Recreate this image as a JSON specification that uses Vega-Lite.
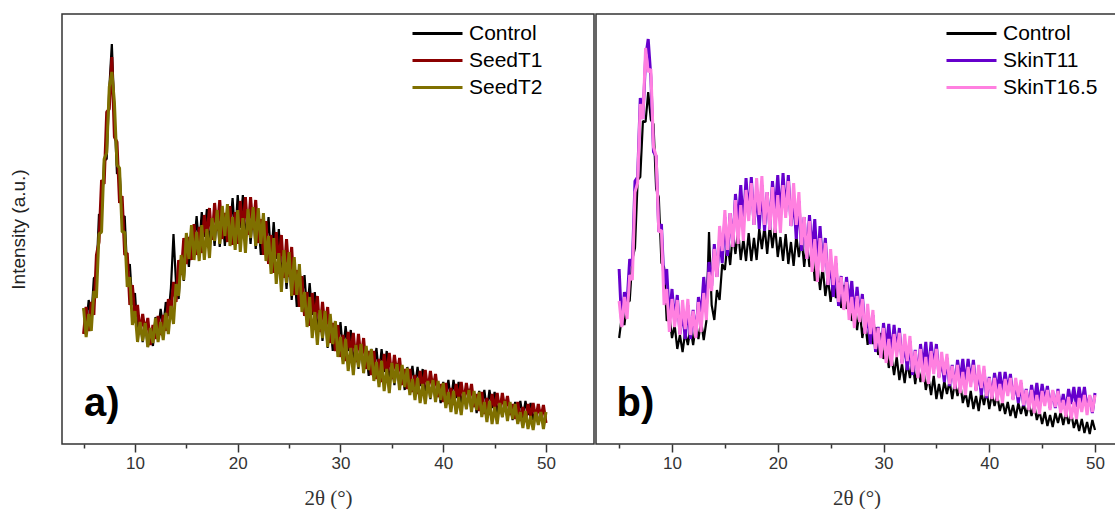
{
"$schema": "https://vega.github.io/schema/vega-lite/v6.json",
"background": "white",
"padding": {"left": 8, "top": 13, "right": 0, "bottom": 0},
"spacing": 0,
"config": {
 "font": "Liberation Sans",
 "view": {"stroke": "#333333", "strokeWidth": 1.5},
 "line": {"strokeWidth": 3, "strokeJoin": "bevel"},
 "axis": {"grid": false, "domain": false, "tickColor": "#333333", "tickWidth": 1.5, "labelFont": "Liberation Sans", "labelFontSize": 17, "labelColor": "#333333", "labelPadding": 3, "titleFont": "Liberation Serif", "titleFontSize": 21, "titleFontWeight": "normal", "titleColor": "#333333", "titlePadding": 16},
 "axisY": {"titleFont": "Liberation Sans", "titleFontSize": 19, "titleColor": "#222222", "titlePadding": 34, "ticks": false, "labels": false},
 "legend": {"title": null, "symbolType": "stroke", "symbolSize": 2500, "symbolStrokeWidth": 2, "labelFontSize": 21, "labelFont": "Liberation Sans", "labelColor": "#000000", "labelOffset": 5, "rowPadding": 0, "clipHeight": 27, "padding": 0}
},
"datasets": {
"a": [
{"x":5,"ctrl":136,"t1":110,"t2":136},{"x":5.25,"ctrl":119,"t1":137,"t2":107},{"x":5.5,"ctrl":144,"t1":113,"t2":130},{"x":5.75,"ctrl":125,"t1":142,"t2":113},{"x":6,"ctrl":166,"t1":129,"t2":153},{"x":6.25,"ctrl":168,"t1":189,"t2":146},{"x":6.5,"ctrl":230,"t1":202,"t2":210},{"x":6.75,"ctrl":226,"t1":264,"t2":212},{"x":7,"ctrl":283,"t1":260,"t2":285},{"x":7.25,"ctrl":285,"t1":332,"t2":291},{"x":7.5,"ctrl":355,"t1":335,"t2":357},{"x":7.75,"ctrl":400,"t1":387,"t2":372},{"x":8,"ctrl":330,"t1":307,"t2":342},{"x":8.25,"ctrl":270,"t1":302,"t2":279},{"x":8.5,"ctrl":274,"t1":241,"t2":276},{"x":8.75,"ctrl":226,"t1":248,"t2":212},{"x":9,"ctrl":228,"t1":189,"t2":212},{"x":9.25,"ctrl":171,"t1":191,"t2":157},{"x":9.5,"ctrl":180,"t1":139,"t2":167},{"x":9.75,"ctrl":139,"t1":159,"t2":119},
{"x":10,"ctrl":151,"t1":128,"t2":133},{"x":10.25,"ctrl":113,"t1":139,"t2":102},{"x":10.5,"ctrl":123,"t1":110,"t2":122},{"x":10.75,"ctrl":102,"t1":130,"t2":103},{"x":11,"ctrl":122,"t1":111,"t2":121},{"x":11.25,"ctrl":97,"t1":126,"t2":97},{"x":11.5,"ctrl":112,"t1":99,"t2":116},{"x":11.75,"ctrl":98,"t1":119,"t2":101},{"x":12,"ctrl":127,"t1":105,"t2":126},{"x":12.25,"ctrl":113,"t1":128,"t2":102},{"x":12.5,"ctrl":135,"t1":109,"t2":122},{"x":12.75,"ctrl":116,"t1":129,"t2":104},{"x":13,"ctrl":142,"t1":113,"t2":131},{"x":13.25,"ctrl":128,"t1":145,"t2":110},{"x":13.5,"ctrl":156,"t1":133,"t2":138},{"x":13.75,"ctrl":210,"t1":162,"t2":120},{"x":14,"ctrl":160,"t1":142,"t2":160},{"x":14.25,"ctrl":145,"t1":184,"t2":148},{"x":14.5,"ctrl":187,"t1":169,"t2":189},{"x":14.75,"ctrl":163,"t1":206,"t2":164},
{"x":15,"ctrl":200,"t1":180,"t2":211},{"x":15.25,"ctrl":177,"t1":207,"t2":185},{"x":15.5,"ctrl":217,"t1":184,"t2":219},{"x":15.75,"ctrl":198,"t1":220,"t2":184},{"x":16,"ctrl":228,"t1":189,"t2":212},{"x":16.25,"ctrl":197,"t1":217,"t2":183},{"x":16.5,"ctrl":232,"t1":191,"t2":219},{"x":16.75,"ctrl":207,"t1":229,"t2":184},{"x":17,"ctrl":235,"t1":207,"t2":215},{"x":17.25,"ctrl":200,"t1":236,"t2":186},{"x":17.5,"ctrl":225,"t1":204,"t2":226},{"x":17.75,"ctrl":198,"t1":241,"t2":203},{"x":18,"ctrl":232,"t1":213,"t2":234},{"x":18.25,"ctrl":197,"t1":244,"t2":200},{"x":18.5,"ctrl":227,"t1":205,"t2":238},{"x":18.75,"ctrl":198,"t1":231,"t2":208},{"x":19,"ctrl":238,"t1":202,"t2":240},{"x":19.25,"ctrl":212,"t1":238,"t2":198},{"x":19.5,"ctrl":246,"t1":199,"t2":227},{"x":19.75,"ctrl":208,"t1":232,"t2":194},
{"x":20,"ctrl":249,"t1":200,"t2":234},{"x":20.25,"ctrl":216,"t1":243,"t2":192},{"x":20.5,"ctrl":249,"t1":215,"t2":226},{"x":20.75,"ctrl":205,"t1":247,"t2":191},{"x":21,"ctrl":233,"t1":209,"t2":235},{"x":21.25,"ctrl":200,"t1":247,"t2":206},{"x":21.5,"ctrl":234,"t1":214,"t2":237},{"x":21.75,"ctrl":195,"t1":244,"t2":198},{"x":22,"ctrl":224,"t1":201,"t2":236},{"x":22.25,"ctrl":189,"t1":225,"t2":200},{"x":22.5,"ctrl":229,"t1":189,"t2":231},{"x":22.75,"ctrl":197,"t1":223,"t2":183},{"x":23,"ctrl":227,"t1":180,"t2":208},{"x":23.25,"ctrl":184,"t1":209,"t2":170},{"x":23.5,"ctrl":222,"t1":171,"t2":206},{"x":23.75,"ctrl":185,"t1":212,"t2":160},{"x":24,"ctrl":215,"t1":180,"t2":191},{"x":24.25,"ctrl":167,"t1":209,"t2":152},{"x":24.5,"ctrl":191,"t1":166,"t2":194},{"x":24.75,"ctrl":155,"t1":205,"t2":161},
{"x":25,"ctrl":190,"t1":167,"t2":192},{"x":25.25,"ctrl":144,"t1":197,"t2":148},{"x":25.5,"ctrl":174,"t1":149,"t2":187},{"x":25.75,"ctrl":137,"t1":174,"t2":149},{"x":26,"ctrl":177,"t1":137,"t2":180},{"x":26.25,"ctrl":145,"t1":168,"t2":132},{"x":26.5,"ctrl":169,"t1":128,"t2":152},{"x":26.75,"ctrl":131,"t1":152,"t2":117},{"x":27,"ctrl":161,"t1":118,"t2":147},{"x":27.25,"ctrl":129,"t1":151,"t2":106},{"x":27.5,"ctrl":152,"t1":124,"t2":132},{"x":27.75,"ctrl":113,"t1":148,"t2":99},{"x":28,"ctrl":132,"t1":112,"t2":134},{"x":28.25,"ctrl":103,"t1":142,"t2":106},{"x":28.5,"ctrl":131,"t1":114,"t2":133},{"x":28.75,"ctrl":96,"t1":137,"t2":97},{"x":29,"ctrl":120,"t1":101,"t2":130},{"x":29.25,"ctrl":93,"t1":121,"t2":100},{"x":29.5,"ctrl":122,"t1":93,"t2":123},{"x":29.75,"ctrl":99,"t1":119,"t2":87},
{"x":30,"ctrl":122,"t1":87,"t2":107},{"x":30.25,"ctrl":92,"t1":109,"t2":80},{"x":30.5,"ctrl":118,"t1":83,"t2":105},{"x":30.75,"ctrl":93,"t1":112,"t2":73},{"x":31,"ctrl":114,"t1":90,"t2":96},{"x":31.25,"ctrl":81,"t1":111,"t2":69},{"x":31.5,"ctrl":99,"t1":82,"t2":99},{"x":31.75,"ctrl":75,"t1":110,"t2":77},{"x":32,"ctrl":100,"t1":85,"t2":100},{"x":32.25,"ctrl":71,"t1":106,"t2":71},{"x":32.5,"ctrl":91,"t1":75,"t2":98},{"x":32.75,"ctrl":68,"t1":93,"t2":74},{"x":33,"ctrl":95,"t1":69,"t2":95},{"x":33.25,"ctrl":75,"t1":93,"t2":63},{"x":33.5,"ctrl":96,"t1":65,"t2":82},{"x":33.75,"ctrl":69,"t1":85,"t2":57},{"x":34,"ctrl":95,"t1":62,"t2":83},{"x":34.25,"ctrl":72,"t1":90,"t2":53},{"x":34.5,"ctrl":93,"t1":70,"t2":75},{"x":34.75,"ctrl":63,"t1":91,"t2":51},
{"x":35,"ctrl":81,"t1":65,"t2":81},{"x":35.25,"ctrl":59,"t1":89,"t2":61},{"x":35.5,"ctrl":81,"t1":68,"t2":80},{"x":35.75,"ctrl":55,"t1":86,"t2":54},{"x":36,"ctrl":74,"t1":59,"t2":79},{"x":36.25,"ctrl":54,"t1":75,"t2":57},{"x":36.5,"ctrl":77,"t1":55,"t2":76},{"x":36.75,"ctrl":60,"t1":75,"t2":49},{"x":37,"ctrl":78,"t1":52,"t2":65},{"x":37.25,"ctrl":56,"t1":69,"t2":44},{"x":37.5,"ctrl":77,"t1":50,"t2":66},{"x":37.75,"ctrl":58,"t1":73,"t2":41},{"x":38,"ctrl":75,"t1":56,"t2":60},{"x":38.25,"ctrl":50,"t1":74,"t2":40},{"x":38.5,"ctrl":65,"t1":52,"t2":63},{"x":38.75,"ctrl":45,"t1":73,"t2":46},{"x":39,"ctrl":65,"t1":54,"t2":64},{"x":39.25,"ctrl":43,"t1":70,"t2":42},{"x":39.5,"ctrl":59,"t1":47,"t2":63},{"x":39.75,"ctrl":41,"t1":60,"t2":44},
{"x":40,"ctrl":62,"t1":42,"t2":61},{"x":40.25,"ctrl":47,"t1":61,"t2":36},{"x":40.5,"ctrl":64,"t1":40,"t2":52},{"x":40.75,"ctrl":43,"t1":56,"t2":32},{"x":41,"ctrl":64,"t1":39,"t2":53},{"x":41.25,"ctrl":46,"t1":60,"t2":30},{"x":41.5,"ctrl":62,"t1":45,"t2":47},{"x":41.75,"ctrl":40,"t1":62,"t2":29},{"x":42,"ctrl":53,"t1":41,"t2":52},{"x":42.25,"ctrl":35,"t1":61,"t2":35},{"x":42.5,"ctrl":55,"t1":44,"t2":54},{"x":42.75,"ctrl":33,"t1":60,"t2":32},{"x":43,"ctrl":49,"t1":37,"t2":53},{"x":43.25,"ctrl":31,"t1":50,"t2":34},{"x":43.5,"ctrl":53,"t1":33,"t2":52},{"x":43.75,"ctrl":38,"t1":52,"t2":27},{"x":44,"ctrl":54,"t1":30,"t2":42},{"x":44.25,"ctrl":33,"t1":46,"t2":22},{"x":44.5,"ctrl":54,"t1":29,"t2":43},{"x":44.75,"ctrl":36,"t1":50,"t2":20},
{"x":45,"ctrl":52,"t1":35,"t2":37},{"x":45.25,"ctrl":31,"t1":51,"t2":20},{"x":45.5,"ctrl":43,"t1":32,"t2":41},{"x":45.75,"ctrl":27,"t1":51,"t2":27},{"x":46,"ctrl":44,"t1":34,"t2":43},{"x":46.25,"ctrl":25,"t1":48,"t2":23},{"x":46.5,"ctrl":39,"t1":29,"t2":42},{"x":46.75,"ctrl":24,"t1":40,"t2":25},{"x":47,"ctrl":42,"t1":25,"t2":40},{"x":47.25,"ctrl":30,"t1":42,"t2":20},{"x":47.5,"ctrl":43,"t1":23,"t2":32},{"x":47.75,"ctrl":26,"t1":37,"t2":16},{"x":48,"ctrl":43,"t1":22,"t2":33},{"x":48.25,"ctrl":29,"t1":40,"t2":15},{"x":48.5,"ctrl":41,"t1":28,"t2":28},{"x":48.75,"ctrl":24,"t1":41,"t2":14},{"x":49,"ctrl":34,"t1":25,"t2":32},{"x":49.25,"ctrl":20,"t1":40,"t2":19},{"x":49.5,"ctrl":34,"t1":26,"t2":32},{"x":49.75,"ctrl":18,"t1":39,"t2":15},{"x":50,"ctrl":30,"t1":21,"t2":32}
],
"b": [
{"x":5,"ctrl":106,"s11":175,"s16":143},{"x":5.25,"ctrl":127,"s11":118,"s16":117},{"x":5.5,"ctrl":119,"s11":152,"s16":147},{"x":5.75,"ctrl":142,"s11":141,"s16":125},{"x":6,"ctrl":143,"s11":185,"s16":169},{"x":6.25,"ctrl":185,"s11":178,"s16":164},{"x":6.5,"ctrl":196,"s11":263,"s16":252},{"x":6.75,"ctrl":264,"s11":267,"s16":261},{"x":7,"ctrl":267,"s11":346,"s16":340},{"x":7.25,"ctrl":323,"s11":325,"s16":325},{"x":7.5,"ctrl":322,"s11":386,"s16":396},{"x":7.75,"ctrl":352,"s11":405,"s16":372},{"x":8,"ctrl":324,"s11":367,"s16":375},{"x":8.25,"ctrl":320,"s11":292,"s16":297},{"x":8.5,"ctrl":255,"s11":288,"s16":288},{"x":8.75,"ctrl":247,"s11":212,"s16":212},{"x":9,"ctrl":181,"s11":220,"s16":214},{"x":9.25,"ctrl":177,"s11":159,"s16":139},{"x":9.5,"ctrl":123,"s11":175,"s16":155},{"x":9.75,"ctrl":129,"s11":124,"s16":112},
{"x":10,"ctrl":106,"s11":155,"s16":145},{"x":10.25,"ctrl":119,"s11":122,"s16":117},{"x":10.5,"ctrl":95,"s11":149,"s16":144},{"x":10.75,"ctrl":109,"s11":110,"s16":109},{"x":11,"ctrl":92,"s11":134,"s16":144},{"x":11.25,"ctrl":112,"s11":105,"s16":115},{"x":11.5,"ctrl":99,"s11":139,"s16":145},{"x":11.75,"ctrl":116,"s11":105,"s16":109},{"x":12,"ctrl":99,"s11":134,"s16":133},{"x":12.25,"ctrl":119,"s11":107,"s16":106},{"x":12.5,"ctrl":105,"s11":147,"s16":142},{"x":12.75,"ctrl":123,"s11":128,"s16":112},{"x":13,"ctrl":104,"s11":167,"s16":151},{"x":13.25,"ctrl":123,"s11":137,"s16":124},{"x":13.5,"ctrl":212,"s11":182,"s16":172},{"x":13.75,"ctrl":139,"s11":158,"s16":153},{"x":14,"ctrl":124,"s11":200,"s16":195},{"x":14.25,"ctrl":154,"s11":167,"s16":167},{"x":14.5,"ctrl":144,"s11":206,"s16":218},{"x":14.75,"ctrl":180,"s11":181,"s16":193},
{"x":15,"ctrl":174,"s11":227,"s16":234},{"x":15.25,"ctrl":202,"s11":188,"s16":194},{"x":15.5,"ctrl":179,"s11":231,"s16":231},{"x":15.75,"ctrl":211,"s11":197,"s16":197},{"x":16,"ctrl":190,"s11":250,"s16":244},{"x":16.25,"ctrl":214,"s11":220,"s16":200},{"x":16.5,"ctrl":184,"s11":259,"s16":239},{"x":16.75,"ctrl":205,"s11":218,"s16":203},{"x":17,"ctrl":183,"s11":266,"s16":254},{"x":17.25,"ctrl":211,"s11":229,"s16":223},{"x":17.5,"ctrl":183,"s11":267,"s16":261},{"x":17.75,"ctrl":206,"s11":219,"s16":219},{"x":18,"ctrl":184,"s11":252,"s16":266},{"x":18.25,"ctrl":215,"s11":215,"s16":229},{"x":18.5,"ctrl":195,"s11":259,"s16":268},{"x":18.75,"ctrl":218,"s11":213,"s16":219},{"x":19,"ctrl":190,"s11":252,"s16":252},{"x":19.25,"ctrl":219,"s11":214,"s16":214},{"x":19.5,"ctrl":196,"s11":263,"s16":257},{"x":19.75,"ctrl":218,"s11":231,"s16":211},
{"x":20,"ctrl":187,"s11":269,"s16":249},{"x":20.25,"ctrl":207,"s11":226,"s16":211},{"x":20.5,"ctrl":183,"s11":271,"s16":259},{"x":20.75,"ctrl":210,"s11":232,"s16":226},{"x":21,"ctrl":180,"s11":269,"s16":263},{"x":21.25,"ctrl":202,"s11":218,"s16":218},{"x":21.5,"ctrl":178,"s11":247,"s16":261},{"x":21.75,"ctrl":208,"s11":205,"s16":219},{"x":22,"ctrl":187,"s11":243,"s16":252},{"x":22.25,"ctrl":207,"s11":193,"s16":199},{"x":22.5,"ctrl":177,"s11":227,"s16":227},{"x":22.75,"ctrl":203,"s11":185,"s16":185},{"x":23,"ctrl":177,"s11":229,"s16":223},{"x":23.25,"ctrl":197,"s11":192,"s16":172},{"x":23.5,"ctrl":163,"s11":225,"s16":205},{"x":23.75,"ctrl":180,"s11":177,"s16":162},{"x":24,"ctrl":154,"s11":218,"s16":206},{"x":24.25,"ctrl":177,"s11":177,"s16":172},{"x":24.5,"ctrl":148,"s11":206,"s16":201},{"x":24.75,"ctrl":166,"s11":159,"s16":159},
{"x":25,"ctrl":142,"s11":183,"s16":195},{"x":25.25,"ctrl":166,"s11":147,"s16":159},{"x":25.5,"ctrl":146,"s11":181,"s16":188},{"x":25.75,"ctrl":163,"s11":138,"s16":142},{"x":26,"ctrl":136,"s11":168,"s16":167},{"x":26.25,"ctrl":159,"s11":135,"s16":134},{"x":26.5,"ctrl":135,"s11":167,"s16":162},{"x":26.75,"ctrl":153,"s11":140,"s16":124},{"x":27,"ctrl":123,"s11":163,"s16":147},{"x":27.25,"ctrl":137,"s11":127,"s16":116},{"x":27.5,"ctrl":114,"s11":157,"s16":148},{"x":27.75,"ctrl":135,"s11":127,"s16":122},{"x":28,"ctrl":106,"s11":150,"s16":145},{"x":28.25,"ctrl":124,"s11":111,"s16":110},{"x":28.5,"ctrl":99,"s11":130,"s16":140},{"x":28.75,"ctrl":123,"s11":100,"s16":110},{"x":29,"ctrl":100,"s11":129,"s16":134},{"x":29.25,"ctrl":117,"s11":92,"s16":95},{"x":29.5,"ctrl":89,"s11":117,"s16":116},{"x":29.75,"ctrl":111,"s11":87,"s16":86},
{"x":30,"ctrl":85,"s11":121,"s16":116},{"x":30.25,"ctrl":100,"s11":96,"s16":81},{"x":30.5,"ctrl":76,"s11":120,"s16":105},{"x":30.75,"ctrl":88,"s11":89,"s16":78},{"x":31,"ctrl":69,"s11":119,"s16":110},{"x":31.25,"ctrl":87,"s11":92,"s16":87},{"x":31.5,"ctrl":64,"s11":116,"s16":111},{"x":31.75,"ctrl":80,"s11":81,"s16":80},{"x":32,"ctrl":61,"s11":101,"s16":110},{"x":32.25,"ctrl":82,"s11":74,"s16":83},{"x":32.5,"ctrl":66,"s11":103,"s16":108},{"x":32.75,"ctrl":82,"s11":69,"s16":72},{"x":33,"ctrl":60,"s11":94,"s16":93},{"x":33.25,"ctrl":80,"s11":67,"s16":66},{"x":33.5,"ctrl":62,"s11":100,"s16":95},{"x":33.75,"ctrl":78,"s11":77,"s16":62},{"x":34,"ctrl":54,"s11":102,"s16":87},{"x":34.25,"ctrl":67,"s11":71,"s16":60},{"x":34.5,"ctrl":49,"s11":102,"s16":93},{"x":34.75,"ctrl":68,"s11":75,"s16":70},
{"x":35,"ctrl":45,"s11":100,"s16":95},{"x":35.25,"ctrl":60,"s11":67,"s16":66},{"x":35.5,"ctrl":45,"s11":85,"s16":92},{"x":35.75,"ctrl":63,"s11":62,"s16":69},{"x":36,"ctrl":50,"s11":86,"s16":90},{"x":36.25,"ctrl":63,"s11":58,"s16":60},{"x":36.5,"ctrl":45,"s11":79,"s16":78},{"x":36.75,"ctrl":62,"s11":56,"s16":55},{"x":37,"ctrl":48,"s11":84,"s16":79},{"x":37.25,"ctrl":61,"s11":64,"s16":51},{"x":37.5,"ctrl":41,"s11":85,"s16":72},{"x":37.75,"ctrl":52,"s11":59,"s16":49},{"x":38,"ctrl":37,"s11":85,"s16":77},{"x":38.25,"ctrl":53,"s11":62,"s16":57},{"x":38.5,"ctrl":35,"s11":84,"s16":79},{"x":38.75,"ctrl":48,"s11":54,"s16":53},{"x":39,"ctrl":33,"s11":72,"s16":79},{"x":39.25,"ctrl":52,"s11":49,"s16":56},{"x":39.5,"ctrl":39,"s11":74,"s16":78},{"x":39.75,"ctrl":53,"s11":46,"s16":48},
{"x":40,"ctrl":35,"s11":67,"s16":66},{"x":40.25,"ctrl":50,"s11":47,"s16":45},{"x":40.5,"ctrl":38,"s11":71,"s16":66},{"x":40.75,"ctrl":49,"s11":54,"s16":43},{"x":41,"ctrl":33,"s11":72,"s16":60},{"x":41.25,"ctrl":43,"s11":50,"s16":41},{"x":41.5,"ctrl":30,"s11":72,"s16":65},{"x":41.75,"ctrl":42,"s11":53,"s16":48},{"x":42,"ctrl":28,"s11":70,"s16":66},{"x":42.25,"ctrl":39,"s11":45,"s16":44},{"x":42.5,"ctrl":26,"s11":61,"s16":66},{"x":42.75,"ctrl":41,"s11":41,"s16":47},{"x":43,"ctrl":30,"s11":61,"s16":64},{"x":43.25,"ctrl":41,"s11":38,"s16":39},{"x":43.5,"ctrl":28,"s11":55,"s16":54},{"x":43.75,"ctrl":41,"s11":36,"s16":34},{"x":44,"ctrl":28,"s11":59,"s16":54},{"x":44.25,"ctrl":40,"s11":42,"s16":31},{"x":44.5,"ctrl":24,"s11":61,"s16":49},{"x":44.75,"ctrl":33,"s11":39,"s16":30},
{"x":45,"ctrl":20,"s11":60,"s16":53},{"x":45.25,"ctrl":32,"s11":42,"s16":38},{"x":45.5,"ctrl":18,"s11":58,"s16":54},{"x":45.75,"ctrl":29,"s11":36,"s16":34},{"x":46,"ctrl":17,"s11":53,"s16":54},{"x":46.25,"ctrl":31,"s11":36,"s16":37},{"x":46.5,"ctrl":21,"s11":55,"s16":53},{"x":46.75,"ctrl":32,"s11":34,"s16":31},{"x":47,"ctrl":19,"s11":50,"s16":44},{"x":47.25,"ctrl":32,"s11":33,"s16":27},{"x":47.5,"ctrl":20,"s11":55,"s16":47},{"x":47.75,"ctrl":31,"s11":40,"s16":25},{"x":48,"ctrl":16,"s11":57,"s16":42},{"x":48.25,"ctrl":25,"s11":37,"s16":25},{"x":48.5,"ctrl":13,"s11":57,"s16":46},{"x":48.75,"ctrl":25,"s11":40,"s16":32},{"x":49,"ctrl":11,"s11":57,"s16":49},{"x":49.25,"ctrl":22,"s11":35,"s16":29},{"x":49.5,"ctrl":10,"s11":48,"s16":49},{"x":49.75,"ctrl":24,"s11":31,"s16":32},{"x":50,"ctrl":14,"s11":51,"s16":49}
]
},
"hconcat": [
{
 "width": 532, "height": 430,
 "data": {"name": "a"},
 "layer": [
  {"mark": {"type": "line", "strokeWidth": 2.2},
   "encoding": {
    "x": {"field": "x", "type": "quantitative", "title": "2θ (°)", "scale": {"domain": [2.9, 54.67], "nice": false, "zero": false}, "axis": {"values": [5,10,15,20,25,30,35,40,45,50], "labelExpr": "datum.value % 10 === 0 ? datum.label : ''", "tickSize": {"condition": {"test": "datum.value % 10 === 0", "value": 8}, "value": 4}}},
    "y": {"field": "ctrl", "type": "quantitative", "title": "Intensity (a.u.)", "scale": {"domain": [0, 430], "nice": false, "zero": false}},
    "color": {"datum": "Control", "type": "nominal", "scale": {"domain": ["Control", "SeedT1", "SeedT2"], "range": ["#000000", "#8b0000", "#7f7000"]}, "legend": {"orient": "none", "legendX": 349, "legendY": 6, "symbolStrokeWidth": 2}}
   }},
  {"mark": {"type": "line"},
   "encoding": {
    "x": {"field": "x", "type": "quantitative", "title": "2θ (°)"},
    "y": {"field": "t1", "type": "quantitative", "title": "Intensity (a.u.)"},
    "color": {"datum": "SeedT1", "type": "nominal"}
   }},
  {"mark": {"type": "line"},
   "encoding": {
    "x": {"field": "x", "type": "quantitative", "title": "2θ (°)"},
    "y": {"field": "t2", "type": "quantitative", "title": "Intensity (a.u.)"},
    "color": {"datum": "SeedT2", "type": "nominal"}
   }},
  {"data": {"values": [{"x": 5.05, "y": 28, "t": "a)"}]},
   "mark": {"type": "text", "fontSize": 40, "fontWeight": "bold", "font": "Liberation Sans", "align": "left", "baseline": "alphabetic", "color": "#000000"},
   "encoding": {
    "x": {"field": "x", "type": "quantitative", "title": "2θ (°)"},
    "y": {"field": "y", "type": "quantitative", "title": "Intensity (a.u.)"},
    "text": {"field": "t"}
   }}
 ]
},
{
 "width": 521, "height": 430,
 "data": {"name": "b"},
 "layer": [
  {"mark": {"type": "line", "strokeWidth": 2.2},
   "encoding": {
    "x": {"field": "x", "type": "quantitative", "title": "2θ (°)", "scale": {"domain": [2.813, 52.08], "nice": false, "zero": false}, "axis": {"values": [5,10,15,20,25,30,35,40,45,50], "labelExpr": "datum.value % 10 === 0 ? datum.label : ''", "tickSize": {"condition": {"test": "datum.value % 10 === 0", "value": 8}, "value": 4}}},
    "y": {"field": "ctrl", "type": "quantitative", "scale": {"domain": [0, 430], "nice": false, "zero": false}, "axis": null},
    "color": {"datum": "Control", "type": "nominal", "scale": {"domain": ["Control", "SkinT11", "SkinT16.5"], "range": ["#000000", "#6600cc", "#ff80e0"]}, "legend": {"orient": "none", "legendX": 349, "legendY": 6, "symbolStrokeWidth": 2}}
   }},
  {"mark": {"type": "line"},
   "encoding": {
    "x": {"field": "x", "type": "quantitative", "title": "2θ (°)"},
    "y": {"field": "s11", "type": "quantitative", "axis": null},
    "color": {"datum": "SkinT11", "type": "nominal"}
   }},
  {"mark": {"type": "line"},
   "encoding": {
    "x": {"field": "x", "type": "quantitative", "title": "2θ (°)"},
    "y": {"field": "s16", "type": "quantitative", "axis": null},
    "color": {"datum": "SkinT16.5", "type": "nominal"}
   }},
  {"data": {"values": [{"x": 4.75, "y": 28, "t": "b)"}]},
   "mark": {"type": "text", "fontSize": 40, "fontWeight": "bold", "font": "Liberation Sans", "align": "left", "baseline": "alphabetic", "color": "#000000"},
   "encoding": {
    "x": {"field": "x", "type": "quantitative", "title": "2θ (°)"},
    "y": {"field": "y", "type": "quantitative", "axis": null},
    "text": {"field": "t"}
   }}
 ]
}
],
"resolve": {"scale": {"color": "independent", "x": "independent", "y": "independent"}}
}
